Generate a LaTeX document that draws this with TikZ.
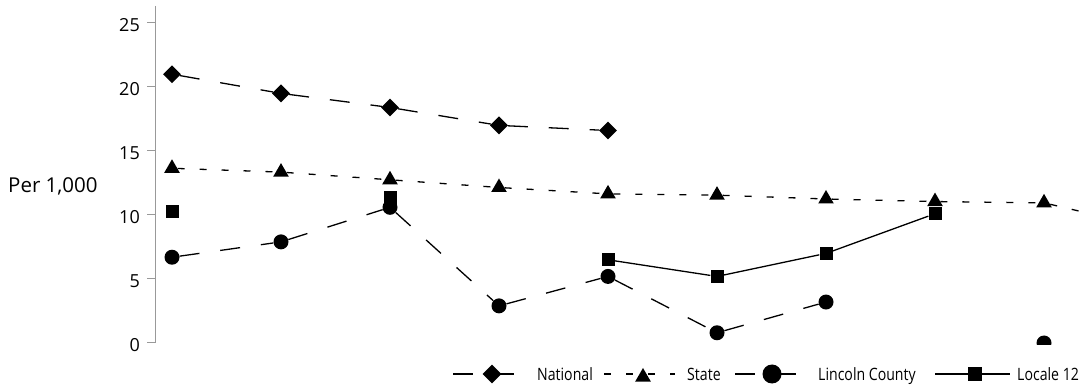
\documentclass[tikz,border=0pt]{standalone}
\usepackage{fontspec}
\setmainfont{Open Sans}
\newfontfamily\legendfont[FakeStretch=0.83]{Open Sans}
\usetikzlibrary{shapes.geometric}

\tikzset{
    natmark/.style={diamond,fill=black,inner sep=0pt,minimum size=18pt},
    statemark/.style={regular polygon,regular polygon sides=3,fill=black,inner sep=0pt,minimum size=18pt},
    lincmark/.style={circle,fill=black,inner sep=0pt,minimum size=15pt},
    locmark/.style={rectangle,fill=black,inner sep=0pt,minimum size=13pt},
    natline/.style={line width=1.3pt,dash pattern=on 20pt off 21pt},
    stateline/.style={line width=1.3pt,dash pattern=on 7pt off 15pt},
    lincline/.style={line width=1.3pt,dash pattern=on 20pt off 21pt},
    locline/.style={line width=1.3pt},
    axisline/.style={draw=gray!80,line width=1pt},
    legendtext/.style={anchor=base west,inner sep=0pt,font=\legendfont\fontsize{17}{20}\selectfont},
}

\begin{document}
\begin{tikzpicture}[x=1pt,y=1pt]
    \useasboundingbox (0,0) rectangle (1089,388);
    % axis
    \draw[axisline] (155,382) -- (155,45);
    \foreach \v in {0,5,...,25}{
        \draw[axisline] (147,{45+12.8*\v}) -- (155,{45+12.8*\v});
        \node[anchor=base east,inner sep=0pt,font=\fontsize{18}{20}\selectfont] (tick\v) at (140,{36+12.8*\v}) {\v};
    }
    \node[anchor=base west,inner sep=0pt,font=\fontsize{20.5}{24}\selectfont] (ylabel) at (8,195) {Per 1,000};
    % series
    \begin{scope}
        \clip (156,43) rectangle (1089,388);
        \begin{scope}[shift={(63,45)},x=109pt,y=12.8pt]
            \foreach \v [count=\i] in {21.0,19.5,18.4,17.0,16.6}
                \node[natmark] (nat\i) at (\i,\v) {};
            \draw[natline] (nat1) -- (nat2) -- (nat3) -- (nat4) -- (nat5);
            \foreach \v [count=\i] in {13.65,13.35,12.75,12.15,11.65,11.55,11.25,11.05,10.95,8.95}
                \node[statemark] (st\i) at (\i,\v) {};
            \draw[stateline] (st1) -- (st2) -- (st3) -- (st4) -- (st5) -- (st6) -- (st7) -- (st8) -- (st9) -- (st10);
            \foreach \i/\v in {1/6.7,2/7.9,3/10.6,4/2.9,5/5.2,6/0.8,7/3.2,9/0}
                \node[lincmark] (lc\i) at (\i,\v) {};
            \draw[lincline] (lc1) -- (lc2) -- (lc3) -- (lc4) -- (lc5) -- (lc6) -- (lc7);
            \foreach \i/\v in {1/10.3,3/11.4,5/6.5,6/5.2,7/7.0,8/10.1}
                \node[locmark] (lo\i) at (\i,\v) {};
            \draw[locline] (lo5) -- (lo6) -- (lo7) -- (lo8);
        \end{scope}
    \end{scope}
    % legend
    \coordinate (lgnA) at (453,14); \coordinate (lgnB) at (517,14);
    \draw[natline] (lgnA) -- (lgnB);
    \node[natmark,minimum size=19pt] (lgn) at (492,14) {};
    \node[legendtext] (lgntext) at (537,7) {National};
    \coordinate (lgsA) at (604,14); \coordinate (lgsB) at (675,14);
    \draw[stateline] (lgsA) -- (lgsB);
    \node[statemark] (lgs) at (643,11) {};
    \node[legendtext] (lgstext) at (687,7) {State};
    \coordinate (lglA) at (735,14); \coordinate (lglB) at (798,14);
    \draw[lincline] (lglA) -- (lglB);
    \node[lincmark,minimum size=19pt] (lgl) at (772,14) {};
    \node[legendtext] (lgltext) at (818,7) {Lincoln County};
    \coordinate (lgoA) at (935,14); \coordinate (lgoB) at (1010,14);
    \draw[locline] (lgoA) -- (lgoB);
    \node[locmark,minimum size=14pt] (lgo) at (975,14) {};
    \node[legendtext] (lgotext) at (1017,7) {Locale 12};
\end{tikzpicture}
\end{document}
